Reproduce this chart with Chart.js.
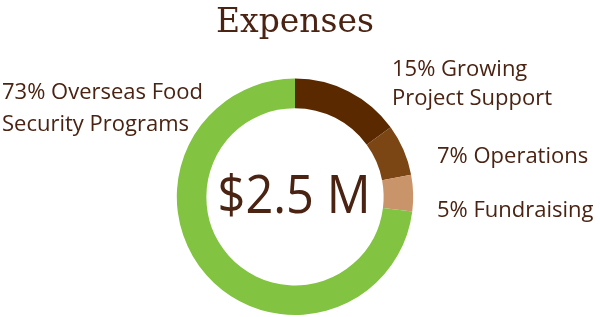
<!DOCTYPE html>
<html>
<head>
<meta charset="utf-8">
<script src="https://cdn.jsdelivr.net/npm/chart.js@4"></script>
<style>
  html, body { margin: 0; padding: 0; background: #fff; }
  #wrap { width: 600px; height: 317px; position: relative; }
</style>
</head>
<body>
<div id="wrap"><canvas id="chart-expenses"></canvas></div>
<script>
'use strict';

const categories = ['Growing Project Support', 'Operations', 'Fundraising', 'Overseas Food Security Programs'];
const shares = [15, 7, 5, 73];
const sliceColors = ['#5b2900', '#7c4514', '#c9946a', '#82c341'];
const totalLabel = '$2.5 M';
const titleText = 'Expenses';

// label lines as shown next to the ring
const labelLines = [
  ['15% Growing', 'Project Support'],
  ['7% Operations'],
  ['5% Fundraising'],
  ['73% Overseas Food', 'Security Programs']
];

const textColor = '#4a2312';

// where each label block sits (left x, first baseline y, line step)
const labelSpots = [
  { x: 392, y: 76, step: 29 },
  { x: 437, y: 163, step: 29 },
  { x: 437, y: 217, step: 29 },
  { x: 2, y: 99, step: 32 }
];

const ringText = {
  id: 'ringText',
  afterDraw: function(chart) {
    const ctx = chart.ctx;
    const arc = chart.getDatasetMeta(0).data[0];
    ctx.save();
    ctx.fillStyle = textColor;
    ctx.textBaseline = 'alphabetic';

    // big total in the hole, a bit condensed like the original
    ctx.save();
    ctx.translate(arc.x - 1, 213);
    ctx.scale(0.92, 1);
    ctx.textAlign = 'center';
    ctx.font = '53px "Open Sans"';
    ctx.fillText(totalLabel, 0, 0);
    ctx.restore();

    ctx.textAlign = 'left';
    ctx.font = '22px "Open Sans"';
    labelLines.forEach(function(lines, i) {
      const spot = labelSpots[i];
      lines.forEach(function(line, j) {
        ctx.fillText(line, spot.x, spot.y + j * spot.step);
      });
    });
    ctx.restore();
  }
};

new Chart(document.getElementById('chart-expenses'), {
  type: 'doughnut',
  data: {
    labels: categories,
    datasets: [{
      data: shares,
      backgroundColor: sliceColors,
      borderWidth: 0,
      hoverOffset: 0
    }]
  },
  options: {
    responsive: true,
    maintainAspectRatio: false,
    animation: false,
    cutout: '75%',
    layout: { padding: { top: 0, bottom: 2, left: 0, right: 10 } },
    plugins: {
      legend: { display: false },
      tooltip: { enabled: false },
      title: {
        display: true,
        text: titleText,
        color: textColor,
        font: { family: '"DejaVu Serif"', size: 33, weight: 'normal', lineHeight: 1.2 },
        padding: { top: 4, bottom: 35 }
      }
    }
  },
  plugins: [ringText]
});
</script>
</body>
</html>
